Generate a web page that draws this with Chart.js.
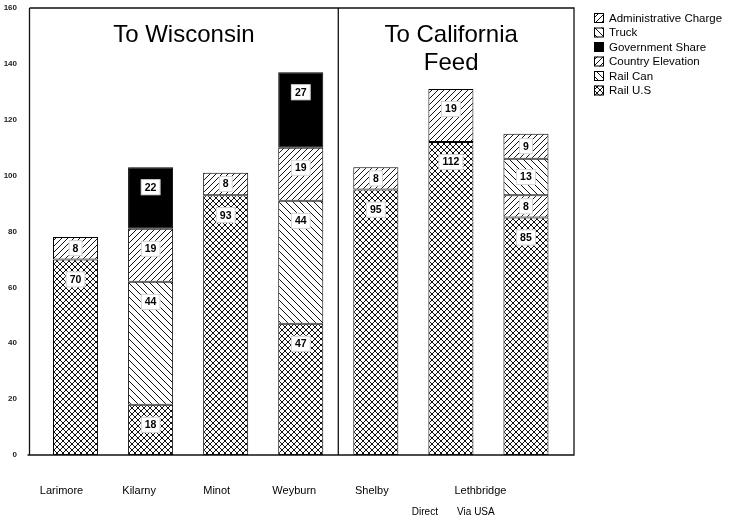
<!DOCTYPE html>
<html>
<head>
<meta charset="utf-8">
<script src="https://cdn.jsdelivr.net/npm/chart.js@4.4.1/dist/chart.umd.min.js"></script>
<style>
  body { margin: 0; background: #fff; }
  canvas { display: block; }
</style>
</head>
<body>
<canvas id="grafico" width="737" height="519"></canvas>
<script>
// dados
const categorias = ['Larimore', 'Kilarny', 'Minot', 'Weyburn', 'Shelby', 'Lethbridge Direct', 'Lethbridge Via USA']
const railUS = [70, 18, 93, 47, 95, 112, 85]
const railCan = [null, 44, null, 44, null, null, null]
const countryElevation = [8, 19, 8, 19, 8, 19, 8]
const governmentShare = [null, 22, null, 27, null, null, null]
const truck = [null, null, null, null, null, null, 13]
const adminCharge = [null, null, null, null, null, null, 9]

const rotulosX = ['Larimore', 'Kilarny', 'Minot', 'Weyburn', 'Shelby']
const rotuloLethbridge = 'Lethbridge'
const subRotulos = ['Direct', 'Via USA']
const titulos = [['To Wisconsin'], ['To California', 'Feed']]

const fonte = '"Liberation Sans", Arial, sans-serif'

// padroes de hachura
function hachura(tipo, passo) {
  const c = document.createElement('canvas')
  c.width = passo
  c.height = passo
  const g = c.getContext('2d')
  g.fillStyle = '#fff'
  g.fillRect(0, 0, passo, passo)
  g.strokeStyle = '#111'
  g.lineWidth = 1
  g.beginPath()
  if (tipo === '/' || tipo === 'x') {
    g.moveTo(-1, passo + 1); g.lineTo(passo + 1, -1)
    g.moveTo(-1, 1); g.lineTo(1, -1)
    g.moveTo(passo - 1, passo + 1); g.lineTo(passo + 1, passo - 1)
  }
  if (tipo === '\\' || tipo === 'x') {
    g.moveTo(-1, -1); g.lineTo(passo + 1, passo + 1)
    g.moveTo(passo - 1, -1); g.lineTo(passo + 1, 1)
    g.moveTo(-1, passo - 1); g.lineTo(1, passo + 1)
  }
  g.stroke()
  return g.createPattern(c, 'repeat')
}

const pCruz = hachura('x', 6)
const pBarra = hachura('/', 6)
const pInvertida = hachura('\\', 7)

const data = {
  labels: categorias,
  datasets: [
    { label: 'Rail U.S', data: railUS, backgroundColor: pCruz },
    { label: 'Rail Can', data: railCan, backgroundColor: pInvertida },
    { label: 'Country Elevation', data: countryElevation, backgroundColor: pBarra },
    { label: 'Government Share', data: governmentShare, backgroundColor: '#000' },
    { label: 'Truck', data: truck, backgroundColor: pInvertida },
    { label: 'Administrative Charge', data: adminCharge, backgroundColor: pBarra }
  ].map(d => Object.assign(d, {
    borderColor: '#000',
    borderWidth: 1,
    borderSkipped: false,
    barPercentage: 0.6,
    categoryPercentage: 1
  }))
}

// moldura, titulos, rotulos e legenda
const desenhos = {
  id: 'desenhos',
  afterDatasetsDraw(chart) {
    const ctx = chart.ctx
    const area = chart.chartArea
    const x = chart.scales.x
    const esq = area.left - 8.5
    const dir = area.right + 10.5
    const meio = (x.getPixelForValue(3) + x.getPixelForValue(4)) / 2

    // valores nas barras
    ctx.save()
    ctx.font = 'bold 10.5px ' + fonte
    ctx.textAlign = 'center'
    ctx.textBaseline = 'middle'
    chart.data.datasets.forEach((ds, i) => {
      chart.getDatasetMeta(i).data.forEach((barra, j) => {
        const v = ds.data[j]
        if (!v) return
        const p = barra.getProps(['x', 'y', 'base'], true)
        const cy = Math.min(p.y + 20, (p.y + p.base) / 2)
        const txt = String(v)
        const w = ctx.measureText(txt).width + 8
        ctx.fillStyle = '#fff'
        ctx.fillRect(p.x - w / 2, cy - 8, w, 16)
        ctx.strokeStyle = '#bbb'
        ctx.lineWidth = 0.6
        ctx.strokeRect(p.x - w / 2 + 0.5, cy - 7.5, w - 1, 15)
        ctx.fillStyle = '#000'
        ctx.fillText(txt, p.x, cy + 0.5)
      })
    })
    ctx.restore()

    // moldura
    ctx.save()
    ctx.strokeStyle = '#111'
    ctx.lineWidth = 1.3
    ctx.beginPath()
    ctx.moveTo(esq, area.top); ctx.lineTo(dir, area.top)
    ctx.lineTo(dir, area.bottom); ctx.lineTo(esq - 2, area.bottom)
    ctx.moveTo(esq, area.top); ctx.lineTo(esq, area.bottom)
    ctx.moveTo(meio, area.top); ctx.lineTo(meio, area.bottom)
    ctx.stroke()

    // titulos
    ctx.fillStyle = '#000'
    ctx.font = '24px ' + fonte
    ctx.textAlign = 'center'
    ctx.textBaseline = 'middle'
    const centros = [(esq + meio) / 2, (meio + dir) / 2 - 5]
    titulos.forEach((linhas, k) => {
      linhas.forEach((t, n) => ctx.fillText(t, centros[k], 35 + n * 28))
    })

    // rotulos do eixo x
    ctx.font = '11px ' + fonte
    ctx.textBaseline = 'alphabetic'
    rotulosX.forEach((t, i) => {
      ctx.fillText(t, x.getPixelForValue(i) - 14 + i * 2.5, 494)
    })
    const cLeth = (x.getPixelForValue(5) + x.getPixelForValue(6)) / 2
    ctx.fillText(rotuloLethbridge, cLeth - 8, 494)
    ctx.font = '10px ' + fonte
    ctx.fillText(subRotulos[0], x.getPixelForValue(5) - 26, 515)
    ctx.fillText(subRotulos[1], x.getPixelForValue(5) + 25, 515)

    // legenda
    ctx.font = '11.5px ' + fonte
    ctx.textAlign = 'left'
    ctx.textBaseline = 'middle'
    const lx = dir + 20
    const itens = chart.data.datasets.slice().reverse()
    itens.forEach((ds, n) => {
      const ly = 18 + n * 14.5
      ctx.fillStyle = ds.backgroundColor
      ctx.fillRect(lx, ly - 5, 10, 10)
      ctx.strokeStyle = '#000'
      ctx.lineWidth = 1
      ctx.strokeRect(lx + 0.5, ly - 4.5, 9, 9)
      ctx.fillStyle = '#000'
      ctx.fillText(ds.label, lx + 15, ly + 0.5)
    })
    ctx.restore()
  }
}

const config = {
  type: 'bar',
  data: data,
  options: {
    responsive: false,
    animation: false,
    layout: { padding: { left: 0, right: 173.5, top: 8, bottom: 64 } },
    plugins: { legend: { display: false }, tooltip: { enabled: false } },
    scales: {
      x: { stacked: true, display: false },
      y: {
        stacked: true,
        min: 0,
        max: 160,
        ticks: { stepSize: 20, padding: 21, color: '#222', font: { size: 8, weight: 'bold', family: fonte } },
        grid: { display: false, drawTicks: false },
        border: { display: false },
        afterFit: s => {
          s.width = 38
          s.paddingTop = 0
          s.paddingBottom = 0
        }
      }
    }
  },
  plugins: [desenhos]
}

const grafico = new Chart(document.getElementById('grafico'), config)
</script>
</body>
</html>
